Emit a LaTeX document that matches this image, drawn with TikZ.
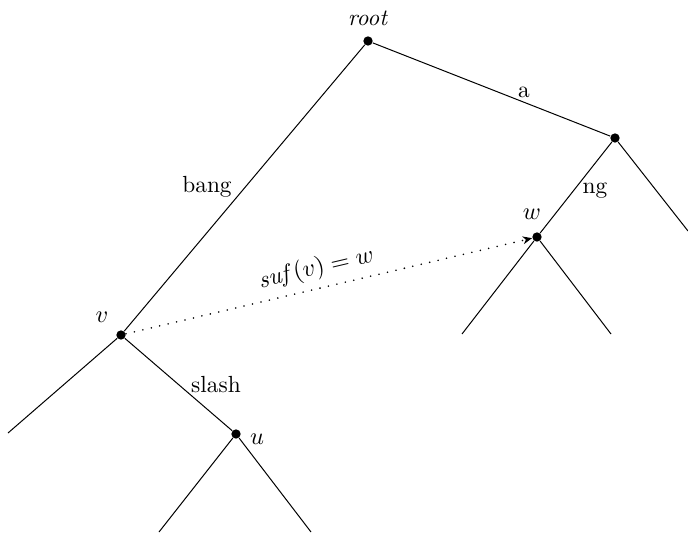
\documentclass[tikz,border=0pt]{standalone}
\usetikzlibrary{arrows.meta}
\begin{document}
\begin{tikzpicture}[x=0.45pt,y=-0.45pt,
  every node/.style={font=\fontsize{10.5}{12.5}\selectfont},
  dot/.style={circle,fill=black,inner sep=0pt,minimum size=4.2pt},
  edgeline/.style={line width=0.45pt},
  lbl/.style={inner sep=0pt}]
\useasboundingbox (0,0) rectangle (688,534);
% internal nodes
\node[dot] (root) at (368,41) {};
\node[dot] (a) at (615,138) {};
\node[dot] (w) at (537,237) {};
\node[dot] (v) at (121,335) {};
\node[dot] (u) at (236,434) {};
% leaves
\coordinate (aR) at (688,231);
\coordinate (wL) at (462,334);
\coordinate (wR) at (611,334);
\coordinate (vL) at (8,433);
\coordinate (uL) at (159,532);
\coordinate (uR) at (311,532);
% edges
\draw[edgeline] (root) -- (a);
\draw[edgeline] (root) -- (v);
\draw[edgeline] (a) -- (w);
\draw[edgeline] (a) -- (aR);
\draw[edgeline] (w) -- (wL);
\draw[edgeline] (w) -- (wR);
\draw[edgeline] (v) -- (vL);
\draw[edgeline] (v) -- (u);
\draw[edgeline] (u) -- (uL);
\draw[edgeline] (u) -- (uR);
% suffix link
\draw[line width=0.8pt,line cap=round,dash pattern=on 0pt off 3.9pt,
  -{Stealth[length=4.2pt,width=3.6pt,line width=0pt,line cap=butt]}]
  (v) -- node[pos=0.48,sloped,above,inner sep=3pt] (suf) {$\mathit{suf}(v) = w$} (w);
% labels
\node[lbl] (lroot) at (368,18) {\textit{root}};
\node[lbl] (la) at (524,92) {a};
\node[lbl] (lng) at (595,191) {ng};
\node[lbl] (lbang) at (207,187) {bang};
\node[lbl] (lslash) at (216,385) {slash};
\node[lbl] (lw) at (532,214) {$w$};
\node[lbl] (lv) at (102,317) {$v$};
\node[lbl] (lu) at (257,439) {$u$};
\end{tikzpicture}
\end{document}
